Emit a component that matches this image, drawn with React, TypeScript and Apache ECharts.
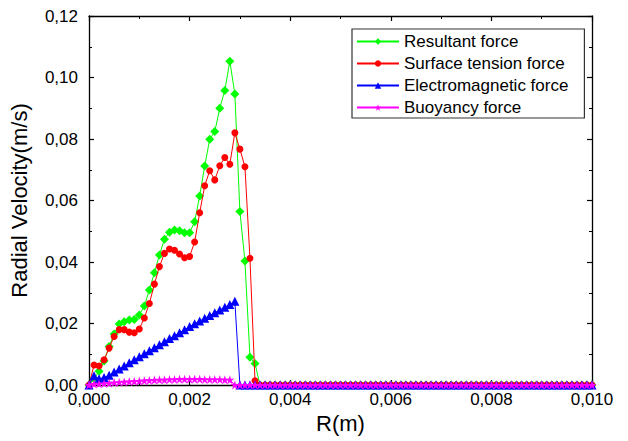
import React, { useEffect, useRef } from "react";
import * as echarts from "echarts";

// Mesh spacing of the radial grid (m)
const STEP = 0.0001;
const N_POINTS = 101;

const seriesNames = [
  "Resultant force",
  "Surface tension force",
  "Electromagnetic force",
  "Buoyancy force",
];

// Values, starting at R = 0, one per mesh step
const resultant = [
  0, 0.002, 0.0045, 0.0078, 0.0125, 0.0166, 0.0198, 0.0206, 0.0211, 0.0213,
  0.0228, 0.0257, 0.0309, 0.0365, 0.0423, 0.0474, 0.0497, 0.0504, 0.0502, 0.0495,
  0.0495, 0.0531, 0.0615, 0.0712, 0.0799, 0.0824, 0.09, 0.0958, 0.1053, 0.0946,
  0.0564, 0.0403, 0.009, 0.007, 0,
];
const surfaceTension = [
  0, 0.0065, 0.0062, 0.0082, 0.012, 0.0158, 0.018, 0.018, 0.0172, 0.017,
  0.0182, 0.0218, 0.0265, 0.0328, 0.0385, 0.0428, 0.0442, 0.0438, 0.0426, 0.0414,
  0.0418, 0.0465, 0.056, 0.0648, 0.0697, 0.0667, 0.0713, 0.074, 0.0718, 0.082,
  0.0767, 0.071, 0.0412, 0.0014, 0,
];
const electromagnetic = [
  0, 0.003, 0.002, 0.0024, 0.0032, 0.0042, 0.0052, 0.0062, 0.0072, 0.0082,
  0.0092, 0.0102, 0.0111, 0.0121, 0.0131, 0.0141, 0.0151, 0.016, 0.017, 0.018,
  0.019, 0.0199, 0.0208, 0.0217, 0.0226, 0.0235, 0.0244, 0.0253, 0.0262, 0.0272,
  0,
];
const buoyancy = [
  0, 0.0003, 0.0004, 0.0005, 0.0006, 0.0008, 0.0009, 0.001, 0.0011, 0.0012,
  0.0013, 0.0014, 0.0015, 0.0016, 0.0017, 0.0017, 0.0018, 0.0018, 0.0019, 0.0019,
  0.0019, 0.0019, 0.0019, 0.0018, 0.0018, 0.0018, 0.0018, 0.0017, 0.0017, 0,
];

const xTickLabels = ["0,000", "0,002", "0,004", "0,006", "0,008", "0,010"];
const yTickLabels = ["0,00", "0,02", "0,04", "0,06", "0,08", "0,10", "0,12"];

const colors = ["#00ff00", "#ff0000", "#0000ff", "#ff00ff"];
const STAR =
  "path://M50,0 L61.8,35.5 L100,35.5 L69.1,57.4 L80.9,93.5 L50,71.4 L19.1,93.5 L30.9,57.4 L0,35.5 L38.2,35.5 Z";
const symbols = ["diamond", "circle", "triangle", STAR];
const symbolSizes = [9, 7, 9, 9];

const FONT = "'Liberation Sans', Arial, Helvetica, sans-serif";

function toPairs(values: number[]) {
  const out: [number, number][] = [];
  for (let i = 0; i < N_POINTS; i++) {
    const v = i < values.length ? values[i] : 0; // flat on the axis beyond
    out.push([+(i * STEP).toFixed(5), v]);
  }
  return out;
}

export default function App() {
  const ref = useRef<HTMLDivElement>(null);
  useEffect(() => {
    if (!ref.current) return;
    const chart = echarts.init(ref.current, null, { renderer: "svg" });
    const allValues = [resultant, surfaceTension, electromagnetic, buoyancy];
    const axisLine = { show: true, onZero: false, lineStyle: { color: "#000", width: 1.3 } };
    const tick = { show: true, inside: true, length: 5, lineStyle: { color: "#000", width: 1.2 } };
    const minor = { show: true, splitNumber: 2, length: 3, lineStyle: { color: "#000", width: 1 } };
    chart.setOption({
      animation: false,
      backgroundColor: "#fff",
      grid: { left: 88, right: 36, top: 16, bottom: 56, containLabel: false },
      legend: {
        show: true,
        orient: "vertical",
        left: 352,
        top: 29,
        data: seriesNames,
        itemWidth: 42,
        itemHeight: 8,
        itemGap: 5,
        padding: [4, 16, 2, 4],
        borderColor: "#333",
        borderWidth: 1.2,
        textStyle: { fontSize: 17, color: "#000", fontFamily: FONT },
      },
      xAxis: [
        {
          type: "value",
          min: 0,
          max: 0.01,
          interval: 0.002,
          position: "bottom",
          name: "R(m)",
          nameLocation: "middle",
          nameGap: 27,
          nameTextStyle: { fontSize: 22, color: "#000", fontFamily: FONT },
          axisLine,
          axisTick: tick,
          minorTick: minor,
          splitLine: { show: false },
          axisLabel: {
            fontSize: 17,
            color: "#000",
            fontFamily: FONT,
            margin: 6,
            formatter: (v: number) => xTickLabels[Math.round(v / 0.002)] ?? "",
          },
        },
        {
          type: "value",
          min: 0,
          max: 0.01,
          interval: 0.002,
          position: "top",
          axisLine,
          axisTick: tick,
          minorTick: minor,
          splitLine: { show: false },
          axisLabel: { show: false },
        },
      ],
      yAxis: [
        {
          type: "value",
          min: 0,
          max: 0.12,
          interval: 0.02,
          position: "left",
          name: "Radial Velocity(m/s)",
          nameLocation: "middle",
          nameGap: 59,
          nameTextStyle: { fontSize: 22, color: "#000", fontFamily: FONT },
          axisLine,
          axisTick: tick,
          minorTick: minor,
          splitLine: { show: false },
          axisLabel: {
            fontSize: 17,
            color: "#000",
            fontFamily: FONT,
            margin: 11,
            formatter: (v: number) => yTickLabels[Math.round(v / 0.02)] ?? "",
          },
        },
        {
          type: "value",
          min: 0,
          max: 0.12,
          interval: 0.02,
          position: "right",
          axisLine,
          axisTick: tick,
          minorTick: minor,
          splitLine: { show: false },
          axisLabel: { show: false },
        },
      ],
      series: seriesNames.map((name, k) => ({
        name,
        type: "line",
        xAxisIndex: 0,
        yAxisIndex: 0,
        data: toPairs(allValues[k]),
        symbol: symbols[k],
        symbolSize: symbolSizes[k],
        showAllSymbol: true,
        color: colors[k],
        lineStyle: { color: colors[k], width: 1 },
        itemStyle: { color: colors[k] },
        z: 2 + k,
      })),
    });
    return () => chart.dispose();
  }, []);
  return (
    <div
      ref={ref}
      style={{ position: "fixed", left: 0, top: 0, width: 628, height: 441 }}
    />
  );
}
